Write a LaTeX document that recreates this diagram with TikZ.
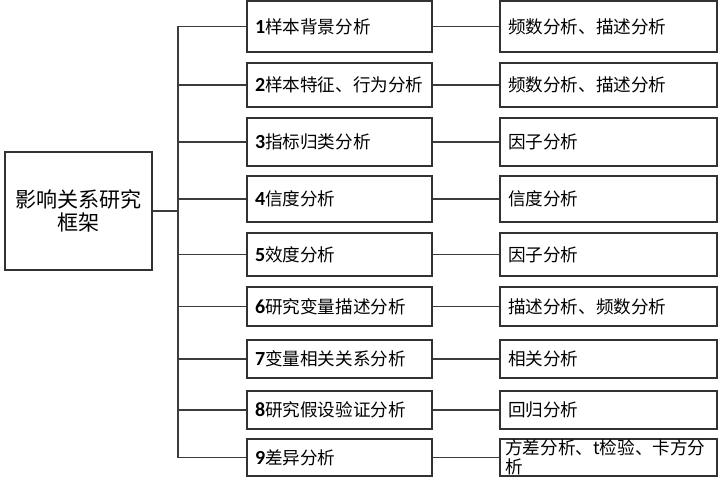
\documentclass[tikz,border=0pt]{standalone}
\usepackage{fontspec}
\setmainfont{Carlito}
\newfontfamily\cjk{Noto Sans CJK SC}
\usepackage{tikz}
\usetikzlibrary{calc}
\tikzset{every picture/.style={line width=0.75pt}}
\newcommand{\stagenum}[1]{{\fontsize{15}{15}\selectfont\bfseries #1}}
\tikzset{
  boxline/.style={draw={rgb, 255:red, 50; green, 50; blue, 50}, line width=1.1pt},
  linkline/.style={draw={rgb, 255:red, 60; green, 60; blue, 60}, line width=0.8pt},
  stagebox/.style={boxline, rectangle, text width=126.75pt, inner xsep=6pt, inner ysep=0pt, align=left, font=\fontsize{13.2}{15}\selectfont},
  methodbox/.style={boxline, rectangle, text width=150.75pt, inner xsep=6pt, inner ysep=0pt, align=left, font=\fontsize{13.2}{15}\selectfont\cjk},
}

\begin{document}
\begin{tikzpicture}[x=0.75pt,y=0.75pt,yscale=-1,xscale=1]
\useasboundingbox (0,0) rectangle (720,488);

%Shape: Rectangle [id:frame] 
\node [boxline, minimum width=110.25pt, minimum height=88.5pt, inner sep=0pt, align=center, font=\fontsize{15.8}{17.5}\selectfont\cjk] (frame) at (78.5,211) {影响关系研究\\框架};

% Stage column
\node [stagebox, minimum height=38.25pt] (s1) at (339.5,26.5) {\stagenum{1}\cjk 样本背景分析};
\node [stagebox, minimum height=33pt] (s2) at (339.5,85) {\stagenum{2}\cjk 样本特征、行为分析};
\node [stagebox, minimum height=36pt] (s3) at (339.5,142) {\stagenum{3}\cjk 指标归类分析};
\node [stagebox, minimum height=34.5pt] (s4) at (339.5,199) {\stagenum{4}\cjk 信度分析};
\node [stagebox, minimum height=32.25pt] (s5) at (339.5,254.5) {\stagenum{5}\cjk 效度分析};
\node [stagebox, minimum height=29.25pt] (s6) at (339.5,306.5) {\stagenum{6}\cjk 研究变量描述分析};
\node [stagebox, minimum height=28.5pt] (s7) at (339.5,359) {\stagenum{7}\cjk 变量相关关系分析};
\node [stagebox, minimum height=28.5pt] (s8) at (339.5,410) {\stagenum{8}\cjk 研究假设验证分析};
\node [stagebox, minimum height=27.75pt] (s9) at (339.5,457.5) {\stagenum{9}\cjk 差异分析};

% Method column
\node [methodbox, minimum height=38.25pt] (m1) at (608.5,26.5) {频数分析、描述分析};
\node [methodbox, minimum height=33pt] (m2) at (608.5,85) {频数分析、描述分析};
\node [methodbox, minimum height=36pt] (m3) at (608.5,142) {因子分析};
\node [methodbox, minimum height=34.5pt] (m4) at (608.5,199) {信度分析};
\node [methodbox, minimum height=32.25pt] (m5) at (608.5,254.5) {因子分析};
\node [methodbox, minimum height=29.25pt] (m6) at (608.5,306.5) {描述分析、频数分析};
\node [methodbox, minimum height=28.5pt] (m7) at (608.5,359) {相关分析};
\node [methodbox, minimum height=28.5pt] (m8) at (608.5,410) {回归分析};
\node [methodbox, minimum height=27.75pt, inner xsep=4pt, text width=154.75pt, font=\fontsize{13.2}{14.5}\selectfont\cjk] (m9) at (608.5,457.5) {方差分析、t检验、卡方分\\析};

% Connectors
\coordinate (trunk) at (178,0);
\draw [linkline] (s1.west -| trunk) -- (s9.west -| trunk);
\draw [linkline] (frame.east) -- (frame.east -| trunk);
\foreach \i in {1,...,9} {
  \draw [linkline] (s\i.west -| trunk) -- (s\i.west);
  \draw [linkline] (s\i.east) -- (m\i.west);
}

\end{tikzpicture}
\end{document}
